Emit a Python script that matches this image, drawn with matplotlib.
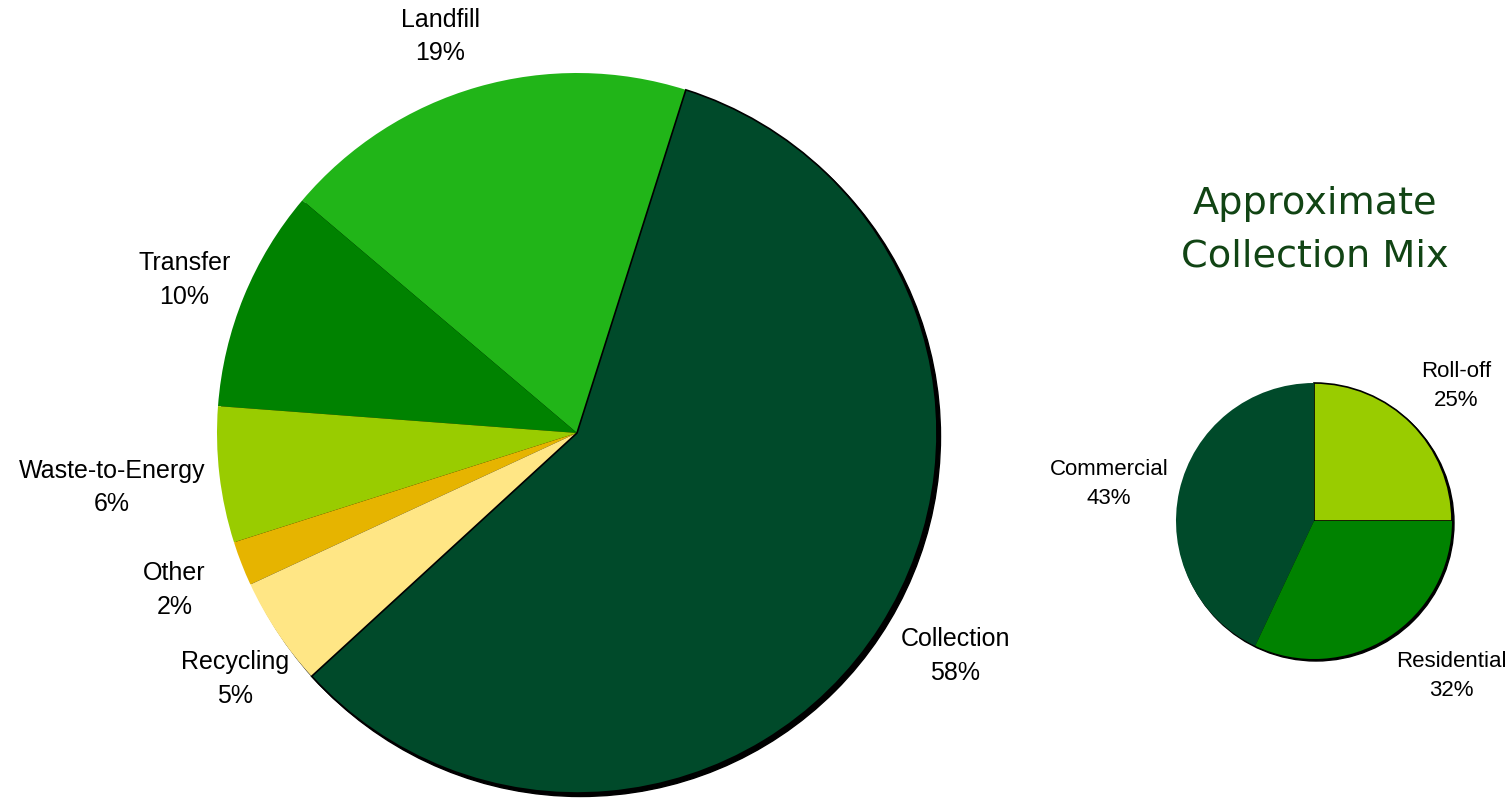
"""Solid waste cost breakdown pie with a small collection-mix inset."""
import numpy as np
import matplotlib
matplotlib.use('Agg')
import matplotlib.pyplot as plt
from matplotlib.patches import Circle

# main pie, listed counter-clockwise from the top-right edge of Landfill
SEGMENTS = ['Landfill', 'Transfer', 'Waste-to-Energy', 'Other', 'Recycling', 'Collection']
SHARES = [18.7, 10.0, 6.1, 2.0, 4.9, 58.3]
SHARE_LABELS = ['19%', '10%', '6%', '2%', '5%', '58%']

# collection mix inset
MIX_TYPES = ['Roll-off', 'Commercial', 'Residential']
MIX_SHARES = [25, 43, 32]
MIX_LABELS = ['25%', '43%', '32%']

COLORS = {
    'Landfill': '#21B518',
    'Transfer': '#008200',
    'Waste-to-Energy': '#99CC00',
    'Other': '#E6B400',
    'Recycling': '#FFE685',
    'Collection': '#004A2A',
    'Roll-off': '#99CC00',
    'Commercial': '#004A2A',
    'Residential': '#008200',
}
# radial distance of each label (in pie radii) and small angular nudges
LABEL_DIST = {
    'Landfill': (1.165, 3), 'Transfer': (1.17, 1), 'Waste-to-Energy': (1.30, 0),
    'Other': (1.20, 0), 'Recycling': (1.17, 2), 'Collection': (1.22, 2),
    'Roll-off': (1.42, -1.4), 'Commercial': (1.51, 2.3), 'Residential': (1.50, 9.3),
}

W, H = 1512, 798
fig = plt.figure(figsize=(W / 100, H / 100), dpi=100)
plt.rcParams['font.family'] = ['Liberation Sans', 'DejaVu Sans']


def add_pie(cx, cy, r, names, values, pct, start, fontsize, shadow, edge_for):
    ax = fig.add_axes([(cx - r) / W, (H - cy - r) / H, 2 * r / W, 2 * r / H])
    off = shadow / r
    ax.add_patch(Circle((off, -off), 1.0, color='black', zorder=0, clip_on=False))
    wedges, _ = ax.pie(values, startangle=start, counterclock=True,
                       colors=[COLORS[n] for n in names], radius=1.0)
    for w, n in zip(wedges, names):
        w.set_zorder(1)
        w.set_clip_on(False)
        if n in edge_for:
            w.set_edgecolor('black')
            w.set_linewidth(1.2)
        else:
            w.set_edgecolor('none')
        mid = np.deg2rad((w.theta1 + w.theta2) / 2 + LABEL_DIST[n][1])
        d = LABEL_DIST[n][0]
        ax.text(d * np.cos(mid), d * np.sin(mid), f'{n}\n{pct[names.index(n)]}',
                ha='center', va='center', fontsize=fontsize, linespacing=1.5,
                color='black')
    ax.set_xlim(-1, 1)
    ax.set_ylim(-1, 1)
    ax.set_aspect('equal')
    ax.axis('off')
    return ax


add_pie(577, 433, 360, SEGMENTS, SHARES, SHARE_LABELS, 72.4, 18, 3.5, {'Collection'})
add_pie(1314, 521, 138, MIX_TYPES, MIX_SHARES, MIX_LABELS, 0, 16, 2, {'Roll-off'})

fig.text(1315 / W, 1 - 230 / H, 'Approximate\nCollection Mix', ha='center', va='center',
         fontsize=27.5, color='#114414', family='DejaVu Sans', linespacing=1.6)

fig.savefig('out.png', dpi=100)
